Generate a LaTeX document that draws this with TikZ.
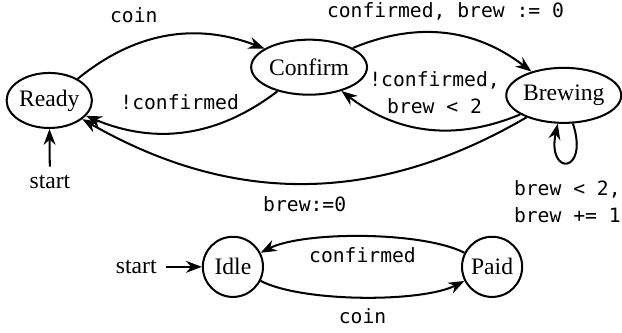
\documentclass[tikz,border=0pt]{standalone}
\usepackage{fontspec}
\setmainfont[Scale=1.05]{Liberation Serif}
\setmonofont[Scale=0.875]{DejaVu Sans Mono}
\usetikzlibrary{arrows.meta,shapes.geometric}

\begin{document}
\begin{tikzpicture}[>=Stealth, line width=0.9pt,
    state/.style={draw, ellipse, inner sep=0pt, minimum height=0.86cm},
    circstate/.style={draw, circle, inner sep=0pt, minimum size=0.94cm},
    lbl/.style={font=\ttfamily}]
  \useasboundingbox (0,0) rectangle (9.72,5.19);
  % estados
  \node[state, minimum width=1.3cm] (ready) at (0.77,3.62) {Ready};
  \node[state, minimum width=1.81cm] (confirm) at (4.83,4.14) {Confirm};
  \node[state, minimum width=1.75cm] (brewing) at (8.81,3.70) {Brewing};
  \node[circstate] (idle) at (3.64,1.02) {Idle};
  \node[circstate] (paid) at (7.69,1.02) {Paid};
  % inicio
  \node (start1) at (0.78,2.34) {start};
  \node (start2) at (2.13,1.02) {start};
  \draw[->] (start1) -- (ready);
  \draw[->] (start2) -- (idle);
  % transicoes
  \draw[->] (ready) to[bend left=30] node[lbl, pos=0.32, above=6pt] (lcoin) {coin} (confirm);
  \draw[->] (confirm) to[bend left=30] node[lbl, pos=0.53, above=6pt] (lnotconf) {!confirmed} (ready);
  \draw[->] (confirm) to[bend left=30] node[lbl, above=2pt] (lconf) {confirmed, brew := 0} (brewing);
  \draw[->] (brewing) to[bend left=30] node[lbl, pos=0.46, above=3pt, align=center] (lretry) {!confirmed,\\brew < 2} (confirm);
  \draw[->] (brewing) to[bend left=30] node[lbl, below=2pt] (lreset) {brew:=0} (ready);
  \draw[->] (brewing) to[out=-72, in=-102, loop, looseness=9] node[lbl, below=4pt, align=center] (lloop) {brew < 2,\\brew += 1} (brewing);
  % automato de baixo
  \draw[->] (paid) to[bend right=27, looseness=0.6] node[lbl, below=1pt] (lpaid) {confirmed} (idle);
  \draw[->] (idle) to[bend right=27, looseness=0.6] node[lbl, below=1pt] (lcoin2) {coin} (paid);
\end{tikzpicture}
\end{document}
